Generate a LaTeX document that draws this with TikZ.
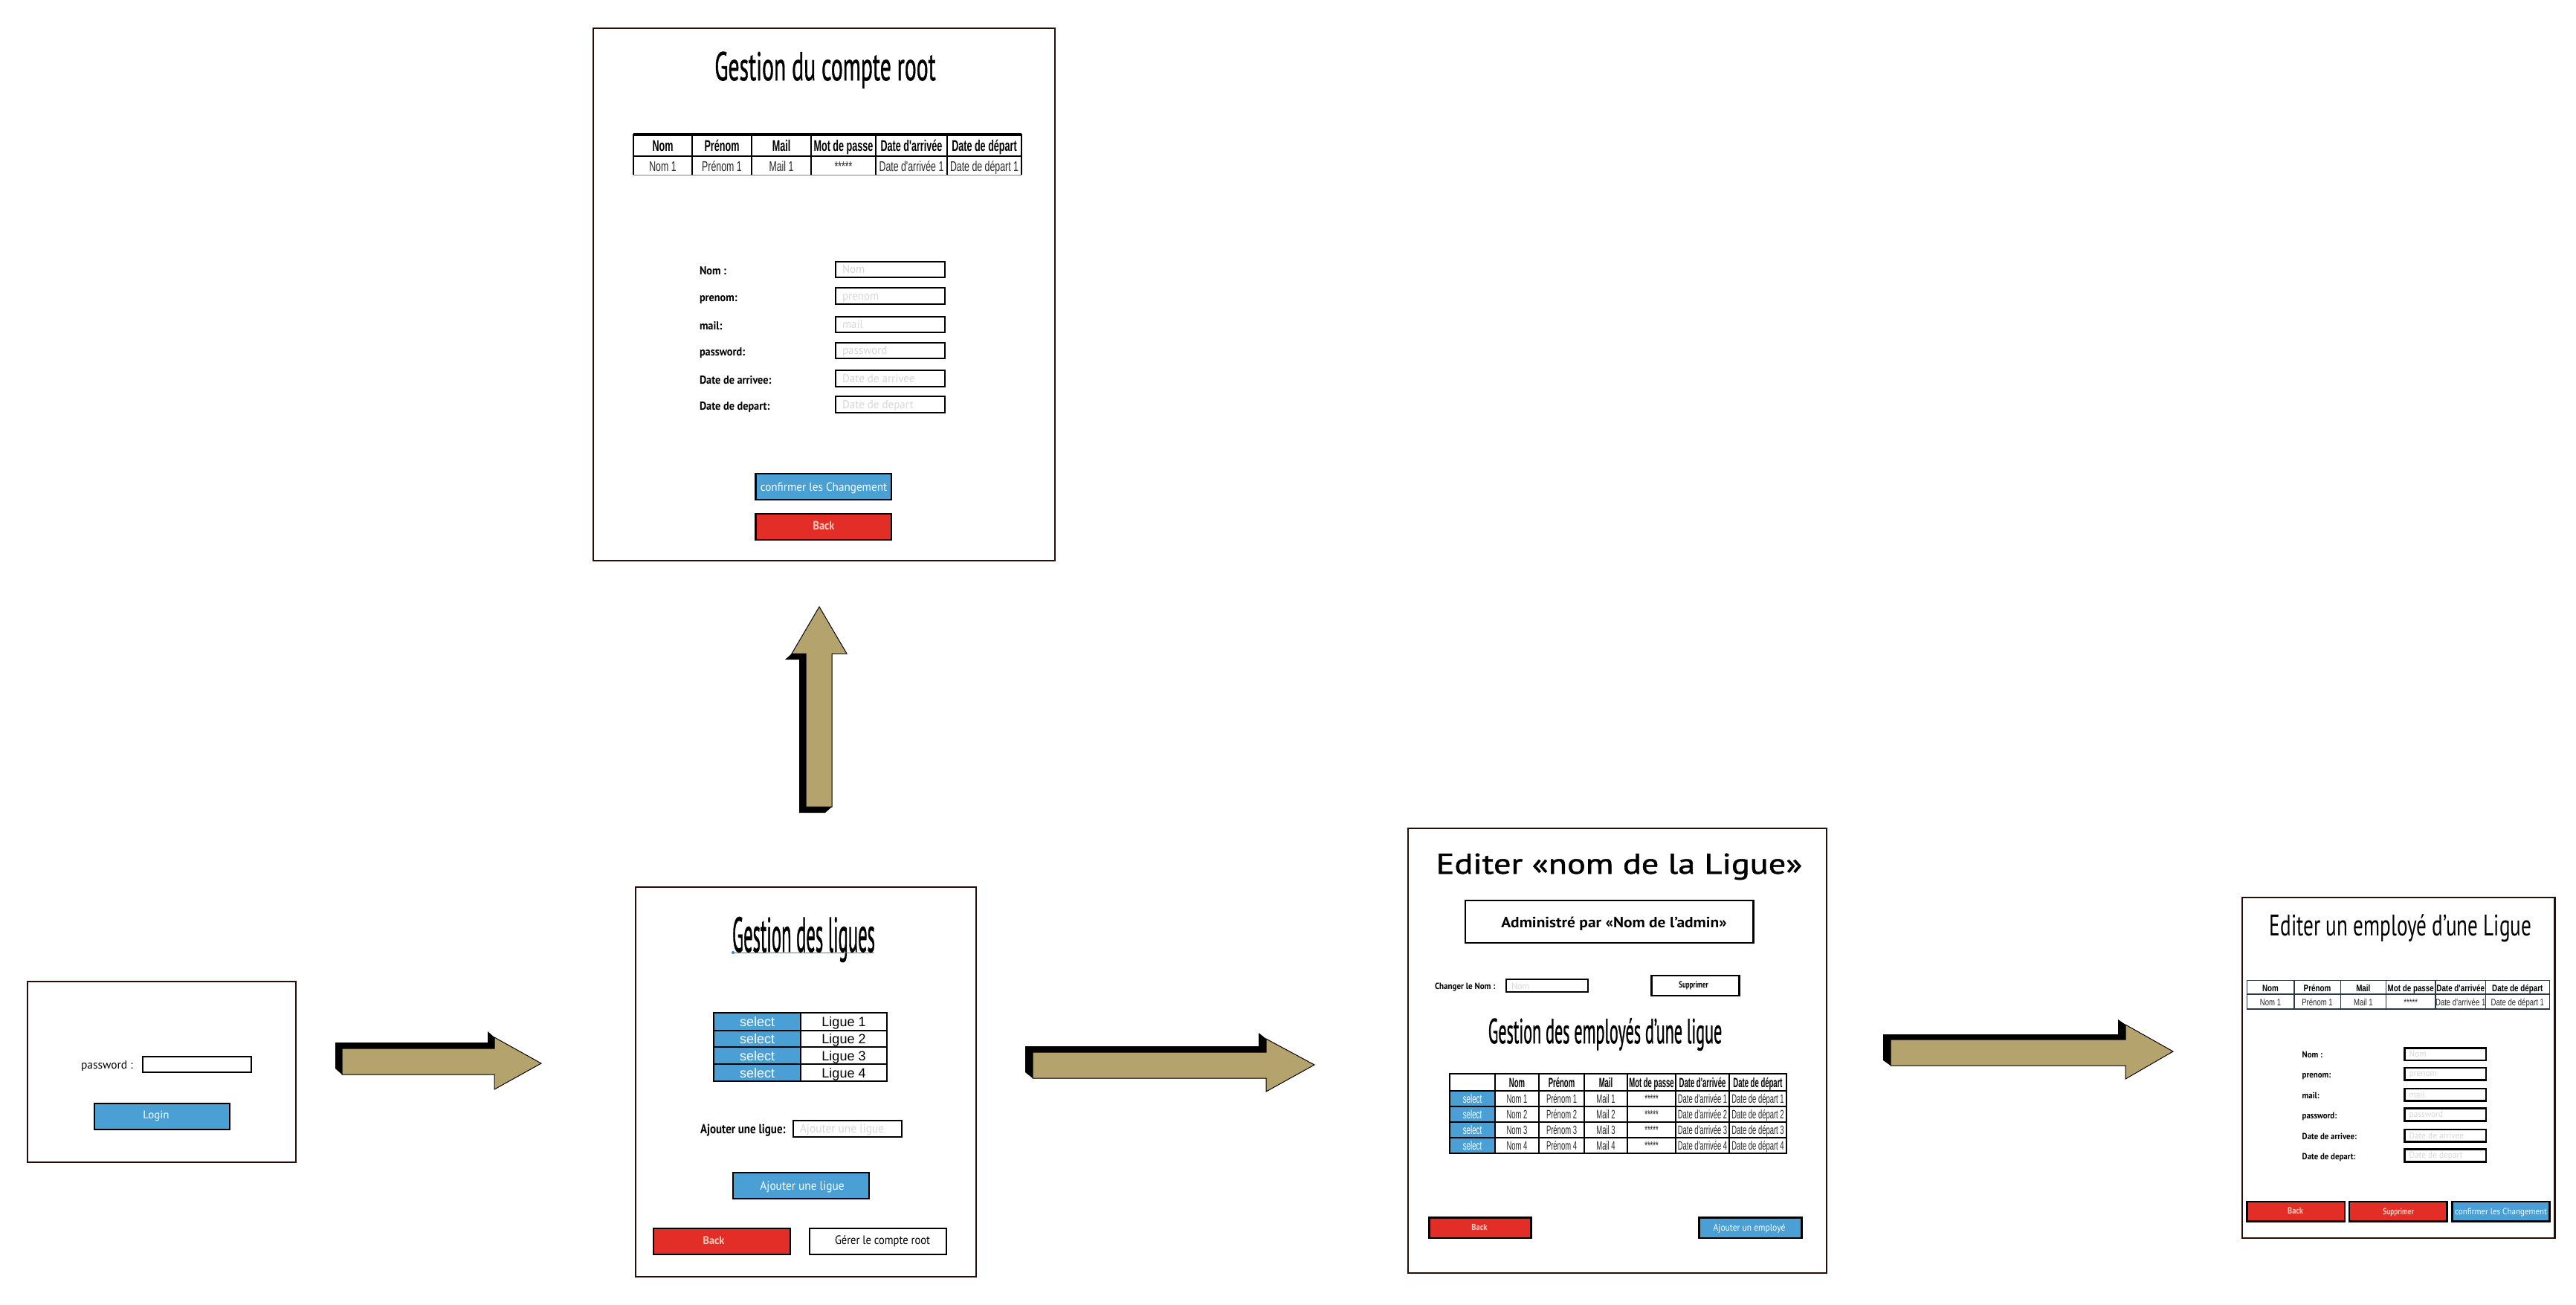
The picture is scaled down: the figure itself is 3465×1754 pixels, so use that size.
\documentclass[tikz,border=0pt]{standalone}
\usepackage{fontspec}
\usepackage{graphicx}
\newfontfamily\uif{PT Sans}
\newfontfamily\uifm[FakeBold=1.2]{PT Sans}
\newfontfamily\tabf{Liberation Sans}
\definecolor{bord}{RGB}{40,14,8}
\definecolor{ubl}{RGB}{74,160,212}
\definecolor{ured}{RGB}{226,46,38}
\definecolor{arrtan}{RGB}{181,163,110}
\definecolor{phc}{RGB}{215,215,215}
\definecolor{pinkw}{RGB}{250,205,195}
\definecolor{tline}{RGB}{45,55,70}
\definecolor{dgray}{RGB}{40,40,40}
\newcommand\UIf[4]{\scalebox{#3}[1]{#1\fontsize{#2}{#2}\selectfont #4}}
\newcommand\UIbox[6]{\node[#2,anchor=north west,inner sep=0pt,outer sep=0pt,minimum width={(#5-#3)*1pt},minimum height={(#6-#4)*1pt}] (#1) at (#3,#4) {};}
\begin{document}
\begin{tikzpicture}[x=1pt,y=-1pt,
 panel/.style={draw=bord,line width=2.5pt,fill=white},
 inbox/.style={draw=black,line width=2.5pt,fill=white},
 bluebtn/.style={draw=black,line width=2.5pt,fill=ubl},
 redbtn/.style={draw=black,line width=2.5pt,fill=ured},
 whitebtn/.style={draw=black,line width=2.5pt,fill=white},
 tl/.style={line width=2pt,draw=black},
 tl5/.style={line width=1.6pt,draw=tline},
 arrsh/.style={fill=black},
 arrbody/.style={fill=arrtan,draw=black,line width=1pt,line join=miter},
 txt/.style={inner sep=0pt,outer sep=0pt}
]
\useasboundingbox[fill=white] (0,0) rectangle (3465,1754);

% ---------------- Panel 1 : login
\UIbox{p1}{panel}{37}{1320}{398}{1563}
\node[txt,anchor=base west] (p1pwl) at (109,1437) {\UIf{\uif}{15.5}{1}{password :}};
\UIbox{p1pw}{inbox}{192}{1421}{338}{1442}
\UIbox{p1login}{bluebtn}{127}{1484}{309}{1519}
\node[txt,anchor=base,text=white] (p1logt) at (210,1504) {\UIf{\uif}{15}{1}{Login}};

% ---------------- Arrows
\fill[arrsh] (460,1445) -- (451,1437) -- (451,1402) -- (656,1402) -- (656,1387) -- (665,1395) -- (665,1445) -- cycle;
\draw[arrbody] (460,1410) -- (665,1410) -- (665,1395) -- (728,1430) -- (665,1465) -- (665,1445) -- (460,1445) -- cycle;

\fill[arrsh] (1389,1450) -- (1379,1442) -- (1379,1407) -- (1693,1407) -- (1693,1389) -- (1703,1397) -- (1703,1450) -- cycle;
\draw[arrbody] (1389,1415) -- (1703,1415) -- (1703,1397) -- (1768,1432) -- (1703,1468) -- (1703,1450) -- (1389,1450) -- cycle;

\fill[arrsh] (2543,1433) -- (2533,1426) -- (2533,1391) -- (2849,1391) -- (2849,1371) -- (2859,1378) -- (2859,1433) -- cycle;
\draw[arrbody] (2543,1398) -- (2859,1398) -- (2859,1378) -- (2923,1414) -- (2859,1451) -- (2859,1433) -- (2543,1433) -- cycle;

\fill[arrsh] (1065,879) -- (1056,887) -- (1075,887) -- (1075,1093) -- (1110,1093) -- (1119,1085) -- (1119,879) -- cycle;
\draw[arrbody] (1084,1085) -- (1084,879) -- (1065,879) -- (1102,816) -- (1139,879) -- (1119,879) -- (1119,1085) -- cycle;

% ---------------- Panel 2 : Gestion du compte root
\UIbox{p2}{panel}{798}{38}{1419}{754}
\node[txt,anchor=base] (p2t) at (1110,108) {\UIf{\uifm}{54}{0.55}{Gestion du compte root}};
\draw[line width=3.5pt] (852,181) -- (1374,181);
\draw[tl] (852,210) -- (1374,210);
\draw[line width=1pt,draw=gray] (852,235) -- (1374,235);
\foreach \x in {852,931,1011,1091,1178,1274,1374} \draw[tl] (\x,180) -- (\x,235);
\foreach \x/\t [count=\i] in {891.5/Nom,971/Prénom,1051/Mail,1134.5/Mot de passe,1226/Date d'arrivée,1324/Date de départ}
  \node[txt,anchor=base] (p2h\i) at (\x,203) {\UIf{\tabf\bfseries}{21}{0.6}{\t}};
\foreach \x/\t [count=\i] in {891.5/Nom 1,971/Prénom 1,1051/Mail 1,1134.5/*****,1226/Date d'arrivée 1,1324/Date de départ 1}
  \node[txt,anchor=base,text=dgray] (p2d\i) at (\x,230) {\UIf{\tabf}{19}{0.65}{\t}};
\foreach \lab/\ph/\tp/\bt [count=\i] in {Nom :/Nom/352/373, prenom:/prenom/387/409, mail:/mail/426/447, password:/password/461/482, Date de arrivee:/Date de arrivee/498/520, Date de depart:/Date de depart/533/555} {
  \UIbox{p2in\i}{inbox}{1124}{\tp}{1271}{\bt}
  \node[txt,anchor=base west] (p2lab\i) at (941,{(\tp+\bt)/2+7}) {\UIf{\uif\bfseries}{15.5}{0.92}{\lab}};
  \node[txt,anchor=base west,text=phc] (p2ph\i) at (1133,\bt-6) {\UIf{\uif}{15.5}{0.97}{\ph}};
}
\UIbox{p2conf}{bluebtn}{1016.5}{637}{1199}{672}
\node[txt,anchor=base,text=white] (p2conft) at (1108,660.5) {\UIf{\uif}{16}{0.95}{confirmer les Changement}};
\UIbox{p2back}{redbtn}{1016.5}{691}{1199}{726}
\node[txt,anchor=base,text=pinkw] (p2backt) at (1108,712) {\UIf{\uif\bfseries}{16}{0.9}{Back}};

% ---------------- Panel 3 : Gestion des ligues
\UIbox{p3}{panel}{855}{1193}{1313}{1717}
\node[txt,anchor=base] (p3t) at (1081,1280) {\UIf{\uifm}{66}{0.373}{Gestion des ligues}};
\draw[draw=ubl!80!blue,line width=1pt] (986,1281) -- (1176,1281);
\fill[ubl!80!blue] (986,1281) circle (2);
\fill[ubl] (960,1362) rectangle (1077,1454);
\draw[tl] (960,1362) rectangle (1193,1454);
\draw[tl] (1077,1362) -- (1077,1454);
\foreach \y in {1385.5,1408,1431} \draw[tl] (960,\y) -- (1193,\y);
\foreach \i/\yc in {1/1373.75,2/1396.75,3/1419.5,4/1442.5} {
  \node[txt,anchor=base,text=white] (p3s\i) at (1018.5,\yc+6.5) {\UIf{\tabf}{18}{1}{select}};
  \node[txt,anchor=base] (p3l\i) at (1135,\yc+6.5) {\UIf{\tabf}{18}{1}{Ligue \i}};
}
\node[txt,anchor=base west] (p3al) at (942,1524) {\UIf{\uif\bfseries}{17.6}{0.85}{Ajouter une ligue:}};
\UIbox{p3in}{inbox}{1067}{1507}{1213}{1529}
\node[txt,anchor=base west,text=phc] (p3ph) at (1076,1523) {\UIf{\uif}{16.5}{0.93}{Ajouter une ligue}};
\UIbox{p3add}{bluebtn}{986}{1577}{1169}{1612}
\node[txt,anchor=base,text=white] (p3addt) at (1079,1600.5) {\UIf{\uif}{16.5}{0.93}{Ajouter une ligue}};
\UIbox{p3back}{redbtn}{879}{1652}{1063}{1687}
\node[txt,anchor=base,text=pinkw] (p3backt) at (960,1673) {\UIf{\uif\bfseries}{15}{0.96}{Back}};
\UIbox{p3root}{whitebtn}{1089}{1652}{1273}{1687}
\node[txt,anchor=base] (p3roott) at (1187,1673) {\UIf{\uif}{16.5}{0.88}{Gérer le compte root}};

% ---------------- Panel 4 : Editer nom de la ligue
\UIbox{p4}{panel}{1894}{1114}{2457}{1712}
\node[txt,anchor=base] (p4t) at (2178,1175) {\UIf{\uifm}{38.6}{1.2}{Editer «nom de la Ligue»}};
\UIbox{p4adm}{whitebtn}{1971}{1211}{2358.5}{1268}
\node[txt,anchor=base] (p4admt) at (2171,1247) {\UIf{\uif\bfseries}{20}{1.07}{Administré par «Nom de l’admin»}};
\node[txt,anchor=base west] (p4cn) at (1930,1330.5) {\UIf{\uif\bfseries}{12}{0.92}{Changer le Nom :}};
\UIbox{p4in}{inbox}{2026}{1317}{2136}{1334}
\node[txt,anchor=base west,text=phc] (p4ph) at (2033,1330) {\UIf{\uif}{12}{1}{Nom}};
\UIbox{p4sup}{whitebtn}{2221.6}{1312}{2339.7}{1339}
\node[txt,anchor=base] (p4supt) at (2278,1328.5) {\UIf{\uif\bfseries}{12}{0.74}{Supprimer}};
\node[txt,anchor=base] (p4st) at (2159,1403) {\UIf{\uifm}{47}{0.47}{Gestion des employés d’une ligue}};
\foreach \y in {1467,1488,1509,1530} \fill[ubl] (1950,\y) rectangle (2011,\y+21);
\draw[tl] (1950,1444) rectangle (2403,1551);
\foreach \x in {2011,2070,2131,2189,2254,2326} \draw[tl] (\x,1444) -- (\x,1551);
\foreach \y in {1467,1488,1509,1530} \draw[tl] (1950,\y) -- (2403,\y);
\foreach \x/\t [count=\i] in {2040.5/Nom,2100.5/Prénom,2160/Mail,2221.5/Mot de passe,2290/Date d'arrivée,2364.5/Date de départ}
  \node[txt,anchor=base] (p4h\i) at (\x,1462) {\UIf{\tabf\bfseries}{18}{0.53}{\t}};
\foreach \r/\yb in {1/1483,2/1504,3/1525,4/1546} {
  \node[txt,anchor=base,text=white] (p4s\r) at (1980.5,\yb) {\UIf{\tabf}{16.3}{0.6}{select}};
  \node[txt,anchor=base,text=dgray] (p4a\r) at (2040.5,\yb) {\UIf{\tabf}{16.3}{0.58}{Nom \r}};
  \node[txt,anchor=base,text=dgray] (p4b\r) at (2100.5,\yb) {\UIf{\tabf}{16.3}{0.58}{Prénom \r}};
  \node[txt,anchor=base,text=dgray] (p4c\r) at (2160,\yb) {\UIf{\tabf}{16.3}{0.58}{Mail \r}};
  \node[txt,anchor=base,text=dgray] (p4d\r) at (2221.5,\yb) {\UIf{\tabf}{16.3}{0.58}{*****}};
  \node[txt,anchor=base,text=dgray] (p4e\r) at (2290,\yb) {\UIf{\tabf}{16.3}{0.58}{Date d'arrivée \r}};
  \node[txt,anchor=base,text=dgray] (p4f\r) at (2364.5,\yb) {\UIf{\tabf}{16.3}{0.58}{Date de départ \r}};
}
\UIbox{p4back}{redbtn}{1922.5}{1637.7}{2059.5}{1665}
\node[txt,anchor=base,text=pinkw] (p4backt) at (1990,1654) {\UIf{\uif\bfseries}{11.5}{0.92}{Back}};
\UIbox{p4add}{bluebtn}{2285.6}{1637.7}{2423.6}{1665}
\node[txt,anchor=base,text=white] (p4addt) at (2353,1655) {\UIf{\uif}{13}{0.89}{Ajouter un employé}};

% ---------------- Panel 5 : Editer un employe
\UIbox{p5}{panel}{3016}{1207}{3436.5}{1665}
\node[txt,anchor=base] (p5t) at (3229,1258) {\UIf{\uif}{40}{0.68}{Editer un employé d’une Ligue}};
\draw[tl5] (3022.3,1318.3) rectangle (3429.3,1356.7);
\draw[tl5] (3022.3,1336.7) -- (3429.3,1336.7);
\foreach \x in {3085.7,3148.3,3209.3,3276,3343.3} \draw[tl5] (\x,1318.3) -- (\x,1356.7);
\foreach \x/\t [count=\i] in {3054/Nom,3117/Prénom,3178.8/Mail,3242.7/Mot de passe,3309.7/Date d'arrivée,3386.3/Date de départ}
  \node[txt,anchor=base] (p5h\i) at (\x,1333) {\UIf{\tabf\bfseries}{12.6}{0.78}{\t}};
\foreach \x/\t [count=\i] in {3054/Nom 1,3117/Prénom 1,3178.8/Mail 1,3242.7/*****,3309.7/Date d'arrivée 1,3386.3/Date de départ 1}
  \node[txt,anchor=base,text=dgray] (p5d\i) at (\x,1352) {\UIf{\tabf}{12.6}{0.76}{\t}};
\foreach \lab/\ph/\tp/\bt [count=\i] in {Nom :/Nom/1409.3/1426, prenom:/prenom/1436/1452.3, mail:/mail/1464/1480.7, password:/password/1490.7/1507.3, Date de arrivee:/Date de arrivee/1519/1535.7, Date de depart:/Date de depart/1545.7/1562.3} {
  \UIbox{p5in\i}{inbox}{3234.3}{\tp}{3344}{\bt}
  \node[txt,anchor=base west] (p5lab\i) at (3096.7,{(\tp+\bt)/2+5}) {\UIf{\uif\bfseries}{11.9}{0.91}{\lab}};
  \node[txt,anchor=base west,text=phc] (p5ph\i) at (3240.7,\bt-4.5) {\UIf{\uif}{11.9}{0.95}{\ph}};
}
\UIbox{p5back}{redbtn}{3022.3}{1616}{3154}{1642.7}
\node[txt,anchor=base,text=pinkw] (p5backt) at (3087.5,1632) {\UIf{\uif\bfseries}{12}{0.86}{Back}};
\UIbox{p5sup}{redbtn}{3160}{1616}{3291.7}{1642.7}
\node[txt,anchor=base,text=pinkw] (p5supt) at (3226,1633) {\UIf{\uif\bfseries}{12}{0.78}{Supprimer}};
\UIbox{p5conf}{bluebtn}{3298.3}{1616}{3429.3}{1642.7}
\node[txt,anchor=base,text=white] (p5conft) at (3364,1633.3) {\UIf{\uif}{12}{0.92}{confirmer les Changement}};
\end{tikzpicture}
\end{document}
